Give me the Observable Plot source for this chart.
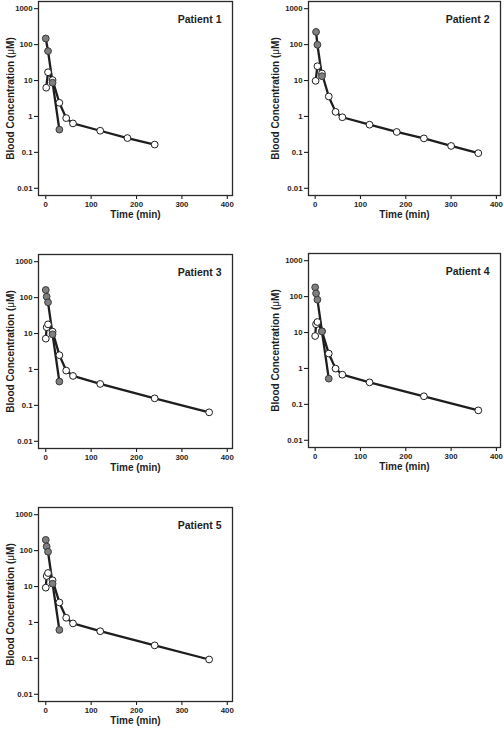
<!DOCTYPE html>
<html>
<head>
<meta charset="utf-8">
<script src="https://cdn.jsdelivr.net/npm/d3@7"></script>
<script src="https://cdn.jsdelivr.net/npm/@observablehq/plot@0.6"></script>
<style>
  html, body { margin: 0; padding: 0; background: #fff; }
  #root { position: relative; width: 504px; height: 735px; overflow: hidden; background: #fff; }
  #root > svg { position: absolute; }
</style>
</head>
<body>
<div id="root"></div>
<script>
// ---- data ----
const patients = ["Patient 1", "Patient 2", "Patient 3", "Patient 4", "Patient 5"];
const xTicks = [0, 100, 200, 300, 400];
const yTicks = [0.01, 0.1, 1, 10, 100, 1000];
const yTickLabels = ["0.01", "0.1", "1", "10", "100", "1000"];
const xLabel = "Time (min)";
const yLabel = "Blood Concentration (μM)";

// filled (grey) series
const p1GreyTime = [0, 5, 15, 30];
const p1GreyConc = [148, 66, 8.7, 0.43];
const p2GreyTime = [2, 5, 15];
const p2GreyConc = [226, 99, 13.2];
const p3GreyTime = [0, 2, 5, 15, 30];
const p3GreyConc = [163, 106, 74, 9.5, 0.46];
const p4GreyTime = [0, 2, 5, 15, 30];
const p4GreyConc = [181, 123, 82, 10.8, 0.52];
const p5GreyTime = [0, 2, 5, 15, 30];
const p5GreyConc = [199, 130, 93, 12, 0.62];

// open (white) series
const p1WhiteTime = [1, 5, 15, 30, 45, 60, 120, 180, 240];
const p1WhiteConc = [6.3, 17, 10.3, 2.4, 0.9, 0.64, 0.40, 0.25, 0.165];
const p2WhiteTime = [1, 5, 15, 30, 45, 60, 120, 180, 240, 300, 360];
const p2WhiteConc = [9.8, 25, 15.7, 3.6, 1.34, 0.95, 0.59, 0.37, 0.245, 0.151, 0.095];
const p3WhiteTime = [0, 2, 5, 15, 30, 45, 60, 120, 240, 360];
const p3WhiteConc = [7.2, 15, 18, 11.3, 2.5, 0.93, 0.66, 0.395, 0.157, 0.064];
const p4WhiteTime = [0, 2, 5, 15, 30, 45, 60, 120, 240, 360];
const p4WhiteConc = [8.0, 17, 19.6, 10.8, 2.6, 0.99, 0.67, 0.41, 0.168, 0.068];
const p5WhiteTime = [0, 2, 5, 15, 30, 45, 60, 120, 240, 360];
const p5WhiteConc = [9.3, 19.6, 23.8, 14.9, 3.6, 1.35, 0.94, 0.57, 0.23, 0.093];

const greyTimes = [p1GreyTime, p2GreyTime, p3GreyTime, p4GreyTime, p5GreyTime];
const greyConcs = [p1GreyConc, p2GreyConc, p3GreyConc, p4GreyConc, p5GreyConc];
const whiteTimes = [p1WhiteTime, p2WhiteTime, p3WhiteTime, p4WhiteTime, p5WhiteTime];
const whiteConcs = [p1WhiteConc, p2WhiteConc, p3WhiteConc, p4WhiteConc, p5WhiteConc];

// ---- layout ----
const font = "'Liberation Sans', Arial, Helvetica, sans-serif";
const ink = "#1e1e1e";
const panelLayout = [
  {left: 0,   top: -1.5,  mL: 38, mR: 20, xd: [-16, 411.5], yLab: -28},
  {left: 252, top: -1.5,  mL: 56, mR: 4,  xd: [-14.7, 409], yLab: -33},
  {left: 0,   top: 252,   mL: 38, mR: 20, xd: [-16, 411.5], yLab: -28},
  {left: 252, top: 251.3, mL: 56, mR: 4,  xd: [-14.7, 409], yLab: -33},
  {left: 0,   top: 505.3, mL: 38, mR: 20, xd: [-16, 411.5], yLab: -28}
];

const root = document.getElementById("root");

patients.forEach((name, i) => {
  const L = panelLayout[i];
  const grey = greyTimes[i].map((t, k) => ({t, c: greyConcs[i][k]}));
  const white = whiteTimes[i].map((t, k) => ({t, c: whiteConcs[i][k]}));
  const svg = Plot.plot({
    width: 252,
    height: 232,
    marginLeft: L.mL,
    marginRight: L.mR,
    marginTop: 2,
    marginBottom: 36,
    style: {fontFamily: font, fontSize: "7.8px", fontWeight: "bold", color: ink, background: "transparent", overflow: "visible"},
    x: {domain: L.xd},
    y: {type: "log", domain: [0.0063, 1585]},
    marks: [
      Plot.axisX(xTicks, {tickSize: 4, tickPadding: 2, label: null, strokeWidth: 1.1, fontWeight: "bold"}),
      Plot.axisY(yTicks, {tickSize: 4, tickPadding: 2, label: null, strokeWidth: 1.1,
        tickFormat: d => yTickLabels[yTicks.indexOf(d)], fontWeight: "bold"}),
      Plot.line(white, {x: "t", y: "c", stroke: ink, strokeWidth: 2.3}),
      Plot.line(grey, {x: "t", y: "c", stroke: ink, strokeWidth: 2.3}),
      Plot.dot(white, {x: "t", y: "c", r: 3.4, fill: "white", stroke: ink, strokeWidth: 1}),
      Plot.dot(grey, {x: "t", y: "c", r: 3.4, fill: "#7f7f7f", stroke: "#3a3a3a", strokeWidth: 1}),
      Plot.frame({stroke: "#2a2a2a", strokeWidth: 1.3}),
      Plot.text([name], {frameAnchor: "top-right", dx: -11, dy: 14, fontSize: 10.5, fontWeight: "bold", fill: ink}),
      Plot.text([xLabel], {frameAnchor: "bottom", dy: 22, fontSize: 10, fontWeight: "bold", fill: ink}),
      Plot.text([yLabel], {frameAnchor: "left", dx: L.yLab, rotate: -90, textAnchor: "middle", lineAnchor: "middle",
        fontSize: 10, fontWeight: "bold", fill: ink})
    ]
  });
  svg.style.left = L.left + "px";
  svg.style.top = L.top + "px";
  // render the Greek mu in regular weight, as in the reference
  d3.select(svg).selectAll("text").each(function() {
    const s = this.textContent;
    const k = s.indexOf("μ");
    if (k >= 0 && this.childElementCount === 0) {
      this.textContent = "";
      const sel = d3.select(this);
      sel.append("tspan").text(s.slice(0, k));
      sel.append("tspan").attr("font-weight", "normal").text("μ");
      sel.append("tspan").text(s.slice(k + 1));
    }
  });
  root.appendChild(svg);
});
</script>
</body>
</html>
